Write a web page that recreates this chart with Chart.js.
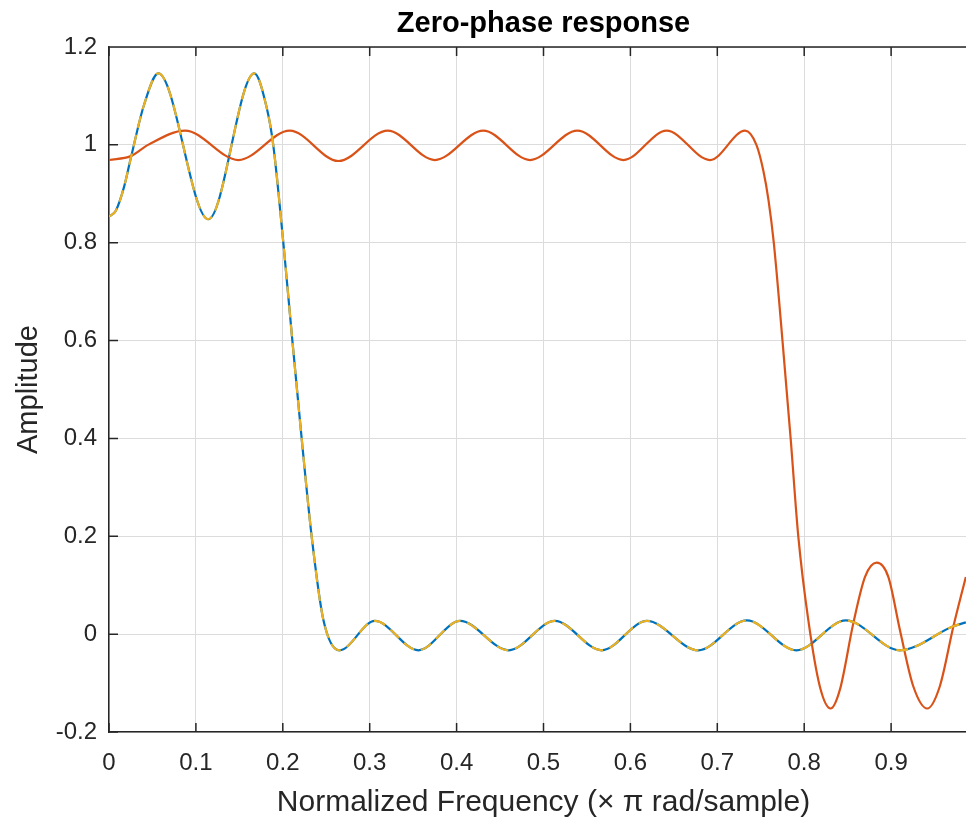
<!DOCTYPE html>
<html>
<head>
<meta charset="utf-8">
<title>Zero-phase response</title>
<script src="https://cdn.jsdelivr.net/npm/chart.js@4"></script>
<style>
    html, body { margin: 0; padding: 0; background: #fff; overflow: hidden; }
    #chart { display: block; }
</style>
</head>
<body>
<canvas id="chart" width="978" height="821"></canvas>
<script>
// 坐标轴刻度
const xTicks = [0, 0.1, 0.2, 0.3, 0.4, 0.5, 0.6, 0.7, 0.8, 0.9];
const xTickLabels = ['0', '0.1', '0.2', '0.3', '0.4', '0.5', '0.6', '0.7', '0.8', '0.9'];
const yTicks = [-0.2, 0, 0.2, 0.4, 0.6, 0.8, 1, 1.2];
const yTickLabels = ['-0.2', '0', '0.2', '0.4', '0.6', '0.8', '1', '1.2'];

// 窄带低通 (蓝色实线 + 黄色虚线, 同一组数据)
const narrowFreq = [0, 0.008, 0.017, 0.025, 0.04, 0.0568, 0.1143, 0.1672, 0.1815, 0.189,
    0.2006, 0.211, 0.2217, 0.2332, 0.2466, 0.265, 0.306, 0.356, 0.404, 0.460,
    0.513, 0.567, 0.619, 0.678, 0.734, 0.791, 0.848, 0.910, 0.9716, 0.986];
const narrowAmp = [0.853, 0.866, 0.912, 0.972, 1.08, 1.146, 0.848, 1.146, 1.076, 1.0,
    0.8, 0.6, 0.4, 0.2, 0.03, -0.033, 0.027, -0.033, 0.027, -0.033,
    0.027, -0.033, 0.027, -0.033, 0.028, -0.033, 0.028, -0.033, 0.016, 0.024];

// 宽带低通 (橙色)
const wideFreq = [0, 0.025, 0.045, 0.0875, 0.149, 0.208, 0.264, 0.3207, 0.375, 0.4307,
    0.4845, 0.539, 0.592, 0.6417, 0.6916, 0.732, 0.745, 0.753, 0.759, 0.765,
    0.775, 0.7844, 0.7932, 0.8047, 0.818, 0.8304, 0.841, 0.8565, 0.87, 0.8834,
    0.8968, 0.9102, 0.9256, 0.9416, 0.956, 0.9716, 0.986];
const wideAmp = [0.969, 0.977, 1.0, 1.029, 0.969, 1.029, 0.967, 1.029, 0.969, 1.029,
    0.969, 1.029, 0.969, 1.029, 0.969, 1.029, 1.0, 0.947, 0.886, 0.8,
    0.6, 0.4, 0.2, 0.029, -0.107, -0.152, -0.114, 0.022, 0.117, 0.146,
    0.117, 0.008, -0.107, -0.152, -0.107, 0.015, 0.117];

const toPoints = (xs, ys) => xs.map((x, i) => ({ x: x, y: ys[i] }));

const FONT = '"Liberation Sans", Arial, Helvetica, sans-serif';
const AXIS_COLOR = '#262626';

// MATLAB 风格的外框和向内刻度
const boxPlugin = {
    id: 'matlabBox',
    afterDraw(chart) {
        const { ctx, chartArea: a, scales } = chart;
        const len = 9;
        ctx.save();
        ctx.strokeStyle = AXIS_COLOR;
        ctx.lineWidth = 1.5;
        ctx.beginPath();
        ctx.moveTo(a.left, a.top);
        ctx.lineTo(a.right, a.top);
        ctx.lineTo(a.right, a.bottom);
        xTicks.forEach(v => {
            const px = scales.x.getPixelForValue(v);
            ctx.moveTo(px, a.bottom);
            ctx.lineTo(px, a.bottom - len);
            ctx.moveTo(px, a.top);
            ctx.lineTo(px, a.top + len);
        });
        yTicks.forEach(v => {
            const py = scales.y.getPixelForValue(v);
            ctx.moveTo(a.left, py);
            ctx.lineTo(a.left + len, py);
            ctx.moveTo(a.right, py);
            ctx.lineTo(a.right - len, py);
        });
        ctx.stroke();
        ctx.restore();
    }
};

new Chart(document.getElementById('chart'), {
    type: 'line',
    data: {
        datasets: [{
            label: 'narrow (dashed)',
            data: toPoints(narrowFreq, narrowAmp),
            borderColor: '#EDB120',
            borderWidth: 2.2,
            borderDash: [12, 7],
            order: 0
        }, {
            label: 'wide',
            data: toPoints(wideFreq, wideAmp),
            borderColor: '#D95319',
            borderWidth: 2.2,
            order: 1
        }, {
            label: 'narrow',
            data: toPoints(narrowFreq, narrowAmp),
            borderColor: '#0072BD',
            borderWidth: 2.2,
            order: 2
        }]
    },
    options: {
        responsive: false,
        animation: false,
        devicePixelRatio: 1,
        layout: { padding: { left: 0, right: 0, top: 0, bottom: 0 } },
        elements: {
            point: { radius: 0 },
            line: { cubicInterpolationMode: 'monotone', fill: false }
        },
        plugins: {
            legend: { display: false },
            tooltip: { enabled: false },
            title: {
                display: true,
                fullSize: false,
                text: 'Zero-phase response',
                color: '#000',
                font: { family: FONT, size: 29, weight: 'bold' },
                padding: { top: 7, bottom: 5.2 }
            }
        },
        scales: {
            x: {
                type: 'linear',
                min: 0,
                max: 1,
                afterBuildTicks: scale => { scale.ticks = xTicks.map(v => ({ value: v })); },
                afterFit: scale => { scale.height = 89; },
                ticks: {
                    color: AXIS_COLOR,
                    padding: 17,
                    maxRotation: 0,
                    autoSkip: false,
                    font: { family: FONT, size: 24 },
                    callback: (value, index) => xTickLabels[index]
                },
                grid: { color: '#dcdcdc', lineWidth: 1, drawTicks: false },
                border: { display: true, color: AXIS_COLOR, width: 1.5 },
                title: {
                    display: true,
                    text: 'Normalized Frequency (\u00d7 \u03c0 rad/sample)',
                    color: AXIS_COLOR,
                    font: { family: FONT, size: 30 },
                    padding: { top: 0, bottom: 0 }
                }
            },
            y: {
                type: 'linear',
                min: -0.2,
                max: 1.2,
                afterBuildTicks: scale => { scale.ticks = yTicks.map(v => ({ value: v })); },
                afterFit: scale => { scale.width = 109; },
                ticks: {
                    color: AXIS_COLOR,
                    padding: 12,
                    autoSkip: false,
                    font: { family: FONT, size: 24 },
                    callback: (value, index) => yTickLabels[index]
                },
                grid: { color: '#dcdcdc', lineWidth: 1, drawTicks: false },
                border: { display: true, color: AXIS_COLOR, width: 1.5 },
                title: {
                    display: true,
                    text: 'Amplitude',
                    color: AXIS_COLOR,
                    font: { family: FONT, size: 29 },
                    padding: { top: 12, bottom: 0 }
                }
            }
        }
    },
    plugins: [boxPlugin]
});
</script>
</body>
</html>
